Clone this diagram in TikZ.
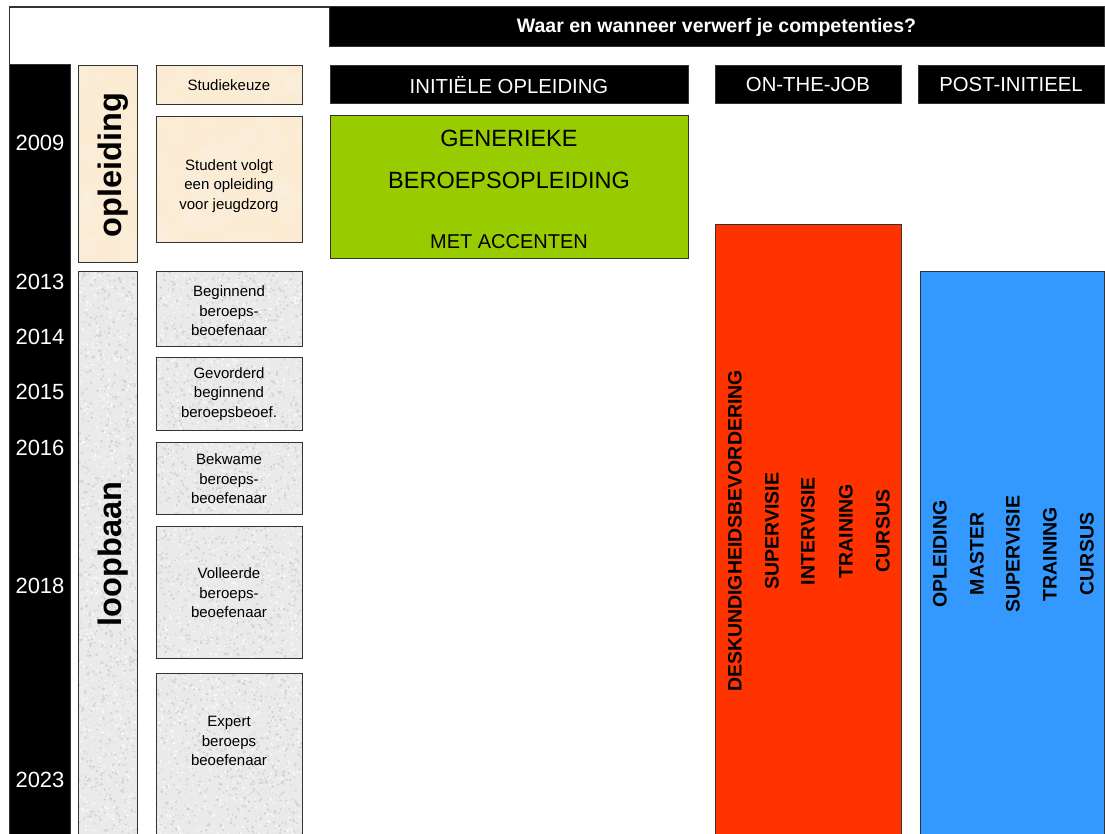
\documentclass[tikz,border=0pt]{standalone}
\usepackage{fontspec}
\setmainfont{Liberation Sans}
\definecolor{edge}{HTML}{333333}
\definecolor{cream}{HTML}{FAEBD2}
\definecolor{paper}{HTML}{EAEAEA}
\definecolor{speckdark}{HTML}{D2D2D2}
\definecolor{specklight}{HTML}{F8F8F8}
\definecolor{limefill}{HTML}{99CC00}
\definecolor{redfill}{HTML}{FF3300}
\definecolor{bluefill}{HTML}{3399FF}

% speckled grey paper background for a rectangle
\newcommand\paperbg[4]{%
  \fill[paper] (#1,#2) rectangle (#3,#4);
  \pgfmathtruncatemacro\ndark{abs((#3-#1)/10*((#4-#2)/10))*3.0}%
  \pgfmathtruncatemacro\nlight{abs((#3-#1)/10*((#4-#2)/10))*2.4}%
  \begin{scope}
    \clip (#1,#2) rectangle (#3,#4);
    \foreach \k in {1,...,\ndark}
      \fill[speckdark] ({#1+(#3-#1)*rnd},{#2+(#4-#2)*rnd}) circle ({0.5+rnd});
    \foreach \k in {1,...,\nlight}
      \fill[specklight] ({#1+(#3-#1)*rnd},{#2+(#4-#2)*rnd}) circle ({0.5+rnd});
  \end{scope}}

% cream paper background with soft light blotches
\newcommand\creambg[4]{%
  \fill[cream] (#1,#2) rectangle (#3,#4);
  \pgfmathtruncatemacro\nblot{abs((#3-#1)/10*((#4-#2)/10))*0.5}%
  \begin{scope}
    \clip (#1,#2) rectangle (#3,#4);
    \foreach \k in {1,...,\nblot}
      \fill[white, opacity=0.08] ({#1+(#3-#1)*rnd},{#2+(#4-#2)*rnd}) circle ({4+8*rnd});
  \end{scope}}

\begin{document}
\begin{tikzpicture}[x=1pt,y=-1pt,
  cell/.style={rectangle, draw=edge, line width=1pt, inner sep=0pt, outer sep=0pt},
  blackbar/.style={cell, fill=black, text=white},
  stage/.style={cell, align=center, font=\fontsize{15}{19.5}\selectfont},
  stagetext/.style={align=center, inner sep=0pt, font=\fontsize{15}{19.5}\selectfont},
  year/.style={text=white, inner sep=0pt, font=\fontsize{22}{26}\selectfont},
  phase/.style={rotate=90, inner sep=0pt, font=\fontsize{32.5}{36}\selectfont\bfseries},
  vlabel/.style={rotate=90, inner sep=0pt, font=\fontsize{19.5}{23}\selectfont\bfseries},
  headtext/.style={font=\fontsize{20.3}{24}\selectfont},
  greentext/.style={inner sep=0pt, font=\fontsize{23.5}{28}\selectfont},
]
\pgfmathsetseed{7}
\useasboundingbox (0,0) rectangle (1105,834);
\clip (0,0) rectangle (1105,834);

% textured backgrounds
\creambg{78}{66}{137}{263}
\creambg{156}{66}{302}{105}
\creambg{156}{117}{302}{243}
\paperbg{78}{272}{137}{850}
\paperbg{156}{272}{302}{346}
\paperbg{156}{357}{302}{430}
\paperbg{156}{442}{302}{514}
\paperbg{156}{526}{302}{658}
\paperbg{156}{673}{302}{850}

% title and column headers
\node[blackbar, minimum width=775pt, minimum height=40pt,
      font=\fontsize{19.5}{23}\selectfont\bfseries] (title) at (716.5,27)
      {Waar en wanneer verwerf je competenties?};
\node[blackbar, minimum width=358pt, minimum height=38pt, headtext] (hinit) at (509,85) {INITIËLE OPLEIDING};
\node[blackbar, minimum width=186pt, minimum height=38pt, headtext] (hjob) at (808,85) {ON-THE-JOB};
\node[blackbar, minimum width=186pt, minimum height=38pt, headtext] (hpost) at (1011,85) {POST-INITIEEL};

% year column
\node[blackbar, minimum width=61pt, minimum height=785pt] (years) at (39.75,457.5) {};
\draw[edge, line width=1.2pt] (years.north west) |- (title.north west);
\node[year] (y2009) at (40,143) {2009};
\node[year] (y2013) at (40,282) {2013};
\node[year] (y2014) at (40,337) {2014};
\node[year] (y2015) at (40,392) {2015};
\node[year] (y2016) at (40,448) {2016};
\node[year] (y2018) at (40,586) {2018};
\node[year] (y2023) at (40,780) {2023};

% phase columns
\node[cell, minimum width=59pt, minimum height=197pt] (oplcol) at (107.5,164.5) {};
\node[phase] (opltext) at (113,165) {opleiding};
\node[cell, minimum width=59pt, minimum height=578pt] (loopcol) at (107.5,561) {};
\node[phase] (looptext) at (113,554) {loopbaan};

% stages
\node[stage, minimum width=146pt, minimum height=39pt] (keuze) at (229,85.5) {Studiekeuze};
\node[stage, minimum width=146pt, minimum height=126pt] (student) at (229,180) {};
\node[stagetext] (studenttext) at (229,186) {Student volgt\\een opleiding\\voor jeugdzorg};
\node[stage, minimum width=146pt, minimum height=74pt] (beginnend) at (229,309) {};
\node[stagetext] (beginnendtext) at (229,311) {Beginnend\\beroeps-\\beoefenaar};
\node[stage, minimum width=146pt, minimum height=73pt] (gevorderd) at (229,393.5) {};
\node[stagetext] (gevorderdtext) at (229,394) {Gevorderd\\beginnend\\beroepsbeoef.};
\node[stage, minimum width=146pt, minimum height=72pt] (bekwaam) at (229,478) {};
\node[stagetext] (bekwaamtext) at (229,479) {Bekwame\\beroeps-\\beoefenaar};
\node[stage, minimum width=146pt, minimum height=132pt] (volleerd) at (229,592) {};
\node[stagetext] (volleerdtext) at (229,593) {Volleerde\\beroeps-\\beoefenaar};
\node[stage, minimum width=146pt, minimum height=177pt] (expert) at (229,761.5) {};
\node[stagetext] (experttext) at (229,741) {Expert\\beroeps\\beoefenaar};

% initial education block
\node[cell, fill=limefill, minimum width=358pt, minimum height=143pt] (generiek) at (509,187.5) {};
\node[greentext] (gen1) at (509,138) {GENERIEKE};
\node[greentext] (gen2) at (509,180) {BEROEPSOPLEIDING};
\node[inner sep=0pt, font=\fontsize{20}{24}\selectfont] (gen3) at (509,242) {MET ACCENTEN};

% on-the-job block
\node[cell, fill=redfill, minimum width=186pt, minimum height=625pt] (job) at (808,537.5) {};
\node[vlabel] (job1) at (735,531) {DESKUNDIGHEIDSBEVORDERING};
\node[vlabel] (job2) at (772,531) {SUPERVISIE};
\node[vlabel] (job3) at (808,531) {INTERVISIE};
\node[vlabel] (job4) at (846,531) {TRAINING};
\node[vlabel] (job5) at (883,531) {CURSUS};

% post-initial block
\node[cell, fill=bluefill, minimum width=184pt, minimum height=578pt] (post) at (1012,561) {};
\node[vlabel] (post1) at (940,554) {OPLEIDING};
\node[vlabel] (post2) at (977,554) {MASTER};
\node[vlabel] (post3) at (1013,554) {SUPERVISIE};
\node[vlabel] (post4) at (1050,554) {TRAINING};
\node[vlabel] (post5) at (1087,554) {CURSUS};
\end{tikzpicture}
\end{document}
